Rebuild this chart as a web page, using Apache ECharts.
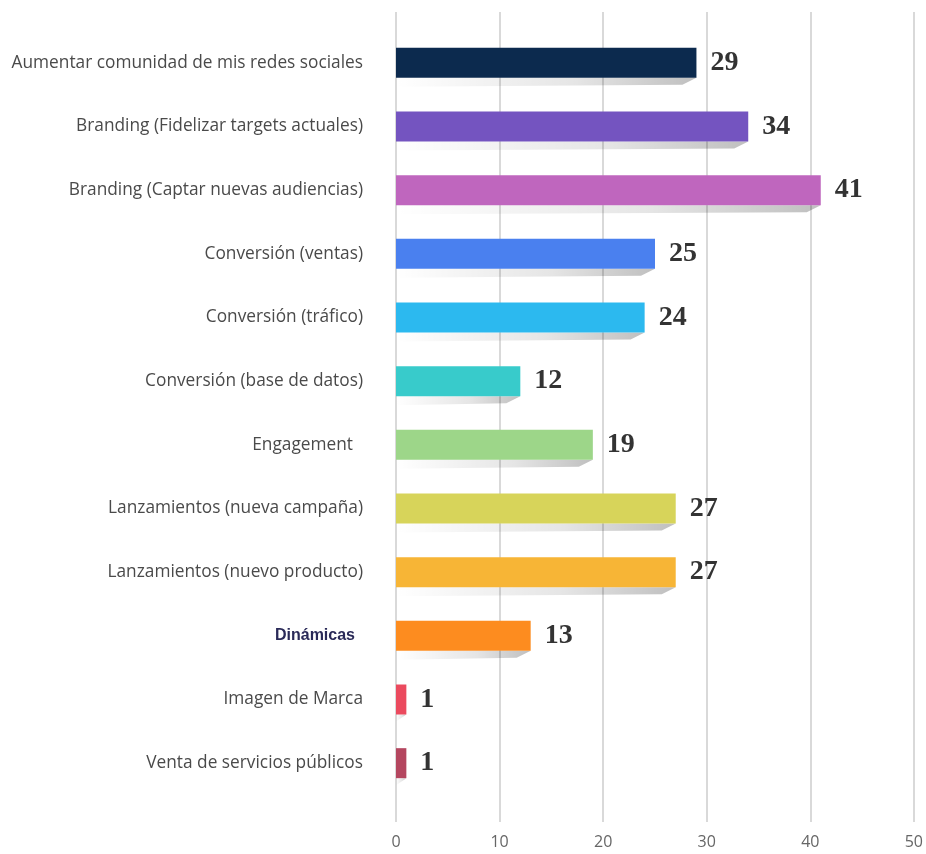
<!DOCTYPE html>
<html>
<head>
<meta charset="utf-8">
<script src="https://cdn.jsdelivr.net/npm/echarts@6/dist/echarts.min.js"></script>
<style>
  html, body { margin: 0; padding: 0; background: #ffffff; }
  #chart { width: 926px; height: 854px; }
</style>
</head>
<body>
<div id="chart"></div>
<script>
// Objectives and how many respondents chose each one
const categories = [
  'Aumentar comunidad de mis redes sociales',
  'Branding (Fidelizar targets actuales)',
  'Branding (Captar nuevas audiencias)',
  'Conversión (ventas)',
  'Conversión (tráfico)',
  'Conversión (base de datos)',
  'Engagement',
  'Lanzamientos (nueva campaña)',
  'Lanzamientos (nuevo producto)',
  'Dinámicas',
  'Imagen de Marca',
  'Venta de servicios públicos'
];
const values = [29, 34, 41, 25, 24, 12, 19, 27, 27, 13, 1, 1];
const barColors = [
  '#0c2a4e', '#7454c0', '#bf66be', '#4a80ef', '#2cb9ef', '#38cbcb',
  '#9dd689', '#d7d45a', '#f7b536', '#fd8c1f', '#eb4a5e', '#b4465f'
];
const tickValues = [0, 10, 20, 30, 40, 50];

const axisMin = tickValues[0];
const axisMax = tickValues[tickValues.length - 1];
const axisStep = tickValues[1] - tickValues[0];

const chart = echarts.init(document.getElementById('chart'), null, { renderer: 'canvas' });

const labelFont = '"Open Sans", Lato, sans-serif';

// Folded-paper shadow under each bar
function renderShadow(params, api) {
  const v = api.value(0);
  const idx = api.value(1);
  const p0 = api.coord([0, idx]);
  const p1 = api.coord([v, idx]);
  const yb = p0[1] + 15;
  const x0 = p0[0];
  const x1 = p1[0];
  const w = x1 - x0;
  const d = Math.min(w, 14);
  return {
    type: 'polygon',
    shape: {
      points: [[x0, yb], [x1, yb], [x1 - d, yb + 7], [x0, yb + 9]]
    },
    style: {
      fill: new echarts.graphic.LinearGradient(0, 0, 1, 0, [
        { offset: 0, color: 'rgba(0,0,0,0.0)' },
        { offset: 0.6, color: 'rgba(0,0,0,0.10)' },
        { offset: 1, color: 'rgba(0,0,0,0.25)' }
      ])
    }
  };
}

const option = {
  backgroundColor: '#ffffff',
  animation: false,
  grid: [
    { left: 396, right: 12, top: 31, bottom: 59 },
    { left: 396, right: 12, top: 12, bottom: 32 }
  ],
  xAxis: [
    {
      gridIndex: 0, type: 'value', min: axisMin, max: axisMax, interval: axisStep,
      show: false
    },
    {
      gridIndex: 1, type: 'value', min: axisMin, max: axisMax, interval: axisStep,
      axisLine: { show: false },
      axisTick: { show: false },
      splitLine: { show: true, lineStyle: { color: '#cccccc', width: 1.5 } },
      axisLabel: { color: '#666666', fontSize: 16, fontFamily: labelFont, margin: 12 }
    }
  ],
  yAxis: [
    {
      gridIndex: 0, type: 'category', data: categories, inverse: true,
      axisLine: { show: false },
      axisTick: { show: false },
      splitLine: { show: false },
      axisLabel: {
        color: '#4a4a4a', fontSize: 17.3, fontFamily: labelFont, margin: 33,
        formatter: function (v) {
          if (v === 'Dinámicas') return '{d|' + v + '}';
          if (v === 'Engagement') return '{e|' + v + '}';
          return v;
        },
        rich: {
          d: { color: '#2a2a58', fontSize: 16, fontWeight: 'bold', fontFamily: '"Liberation Sans", Arial, sans-serif', padding: [0, 8, 0, 0] },
          e: { color: '#4a4a4a', fontSize: 17.3, fontFamily: labelFont, padding: [0, 10, 0, 0] }
        }
      }
    },
    {
      gridIndex: 1, type: 'value', min: 0, max: 1, show: false
    }
  ],
  series: [
    {
      type: 'custom',
      xAxisIndex: 0, yAxisIndex: 0,
      renderItem: renderShadow,
      encode: { x: 0, y: 1 },
      data: values.map((v, i) => [v, i]),
      z: 1,
      silent: true
    },
    {
      type: 'bar',
      xAxisIndex: 0, yAxisIndex: 0,
      barWidth: 30,
      data: values.map((v, i) => ({ value: v, itemStyle: { color: barColors[i] } })),
      label: {
        show: true,
        position: 'right',
        distance: 14,
        color: '#333333',
        fontFamily: '"Liberation Serif", "DejaVu Serif", serif',
        fontWeight: 'bold',
        fontSize: 28
      },
      z: 3
    }
  ]
};

chart.setOption(option);
</script>
</body>
</html>
